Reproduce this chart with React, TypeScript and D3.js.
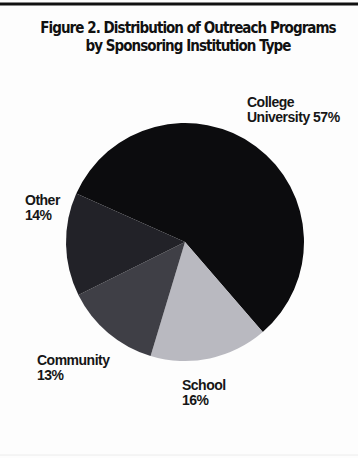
import React from "react";
import * as d3 from "d3";

const categories = ["College University", "School", "Community", "Other"];
const values = [57, 16, 13, 14];
const colors = ["#0c0c0e", "#b9b9c0", "#3f3f46", "#222228"];
const titleLines = [
  "Figure 2. Distribution of Outreach Programs",
  "by Sponsoring Institution Type",
];
const labelLines = [
  ["College", "University 57%"],
  ["School", "16%"],
  ["Community", "13%"],
  ["Other", "14%"],
];
const labelPos = [
  [247, 107],
  [182, 390],
  [37, 365],
  [25, 205],
];

export default function App() {
  const W = 358;
  const H = 458;
  const cx = 185;
  const cy = 242;
  const r = 119;
  const start = (-66 * Math.PI) / 180;
  const pie = d3
    .pie<number>()
    .sort(null)
    .startAngle(start)
    .endAngle(start + 2 * Math.PI)
    .value((d) => d);
  const arcs = pie(values);
  const arc = d3.arc<d3.PieArcDatum<number>>().innerRadius(0).outerRadius(r);
  const titleFont = "'DejaVu Sans Condensed', 'Liberation Sans Narrow', sans-serif";
  const labelFont = "'Liberation Sans', Arial, sans-serif";
  return (
    <svg
      width={W}
      height={H}
      style={{ position: "absolute", left: 0, top: 0, background: "#fff" }}
    >
      <rect x={0} y={0} width={W} height={H} fill="#fdfdfd" />
      <line x1={0} x2={W} y1={4} y2={4} stroke="#111" strokeWidth={3} />
      <line x1={0} x2={W} y1={455} y2={455} stroke="#ececec" strokeWidth={1} />
      {titleLines.map((t, i) => (
        <text
          key={t}
          x={188}
          y={33 + i * 18}
          textAnchor="middle"
          fontFamily={titleFont}
          fontWeight="bold"
          fontSize={15}
          letterSpacing={-0.95}
          fill="#111"
        >
          {t}
        </text>
      ))}
      <g transform={`translate(${cx},${cy})`}>
        {arcs.map((a, i) => (
          <path key={categories[i]} d={arc(a) || ""} fill={colors[i]} />
        ))}
      </g>
      {labelLines.map((lines, i) => (
        <text
          key={categories[i]}
          x={labelPos[i][0]}
          y={labelPos[i][1]}
          fontFamily={labelFont}
          fontWeight="bold"
          fontSize={14}
          letterSpacing={-0.5}
          fill="#161616"
        >
          {lines.map((l, j) => (
            <tspan key={j} x={labelPos[i][0]} dy={j === 0 ? 0 : 15}>
              {l}
            </tspan>
          ))}
        </text>
      ))}
    </svg>
  );
}
